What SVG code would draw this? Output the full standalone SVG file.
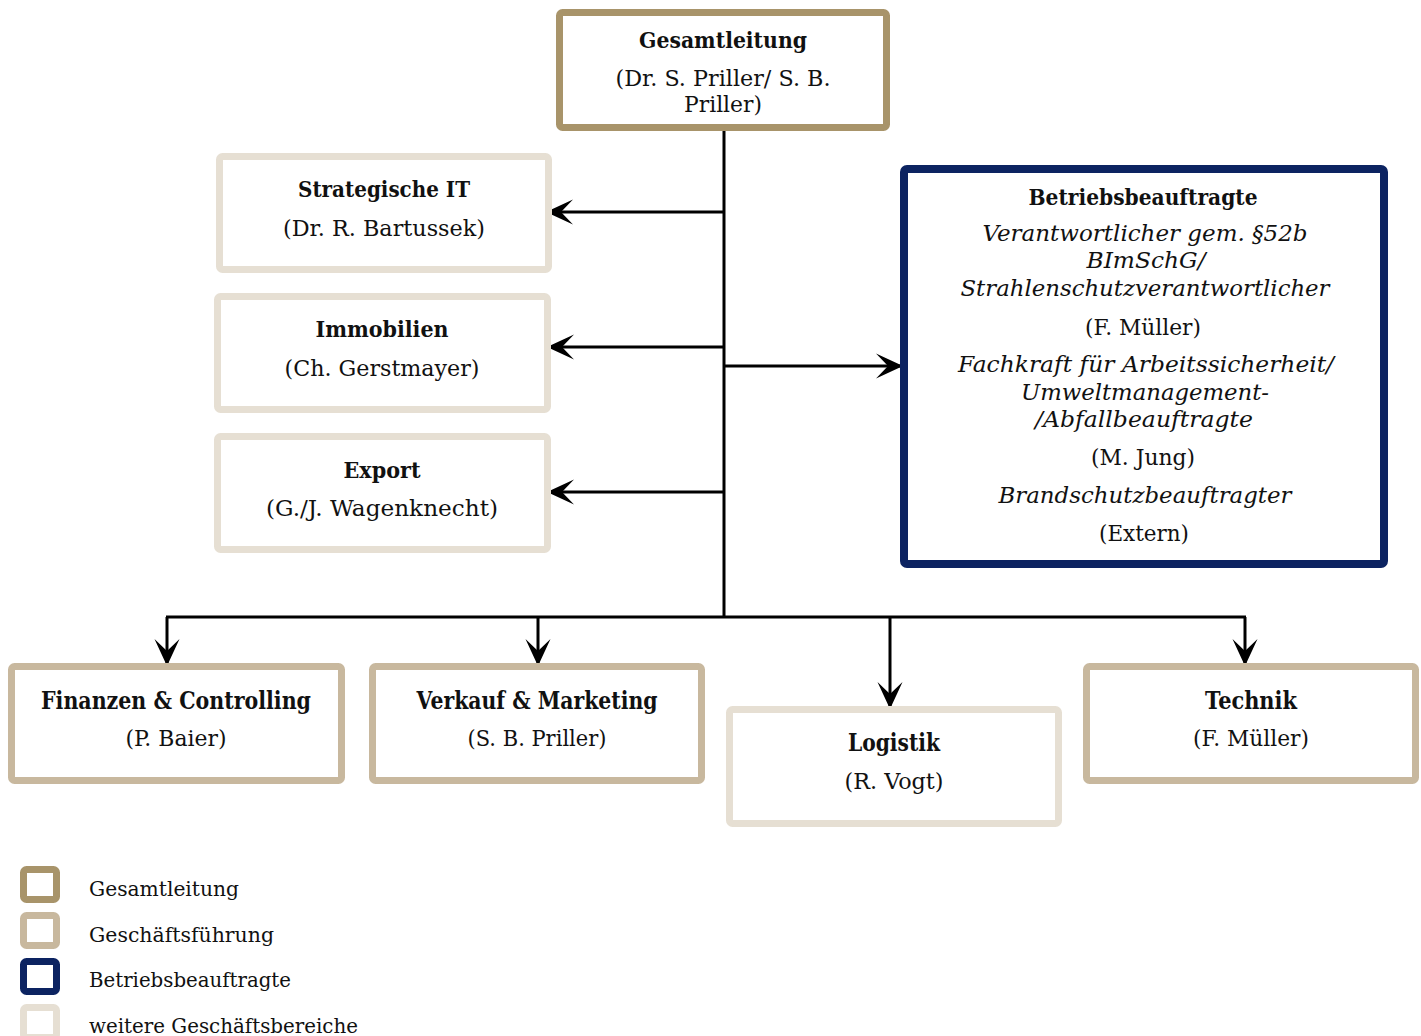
<svg xmlns="http://www.w3.org/2000/svg" width="1421" height="1036" viewBox="0 0 1421 1036">
<style>
.box{fill:#fff;stroke-width:7}
.gl{stroke:#A8946A}
.gf{stroke:#C8B89E}
.bb{stroke:#0C2361}
.wg{stroke:#E6DFD3}
text{font-family:"DejaVu Serif","Liberation Serif",serif;fill:#111;text-anchor:middle}
.h{font-weight:bold;font-size:23px}
.hc{font-weight:bold;font-size:25px}
.n{font-size:22px}
.nc{font-size:23px}
.i{font-size:22px;font-style:italic}
.lg{text-anchor:start;font-size:21px}
.con{stroke:#000;stroke-width:3;fill:none}
</style>
<defs>
<marker id="ah" markerUnits="userSpaceOnUse" markerWidth="30" markerHeight="30" viewBox="-28 -14 30 28" refX="0" refY="0" orient="auto">
<path d="M0,0 L-27,-12.5 L-15,0 L-27,12.5 Z" fill="#000"/>
</marker>
</defs>
<g id="connectors">
<line class="con" x1="724" y1="131" x2="724" y2="617"/>
<line class="con" x1="724" y1="212" x2="546" y2="212" marker-end="url(#ah)"/>
<line class="con" x1="724" y1="347" x2="547" y2="347" marker-end="url(#ah)"/>
<line class="con" x1="724" y1="492" x2="547" y2="492" marker-end="url(#ah)"/>
<line class="con" x1="724" y1="366" x2="903" y2="366" marker-end="url(#ah)"/>
<line class="con" x1="166" y1="617" x2="1246" y2="617"/>
<line class="con" x1="167" y1="617" x2="167" y2="666" marker-end="url(#ah)"/>
<line class="con" x1="538" y1="617" x2="538" y2="666" marker-end="url(#ah)"/>
<line class="con" x1="890" y1="617" x2="890" y2="709" marker-end="url(#ah)"/>
<line class="con" x1="1245" y1="617" x2="1245" y2="666" marker-end="url(#ah)"/>
</g>
<g id="gesamtleitung">
<rect class="box gl" x="559.5" y="12.5" width="327" height="115" rx="3"/>
<text class="h" x="723" y="48" textLength="168" lengthAdjust="spacingAndGlyphs">Gesamtleitung</text>
<text class="n" x="723" y="86" textLength="215" lengthAdjust="spacingAndGlyphs">(Dr. S. Priller/ S. B.</text>
<text class="n" x="723" y="112" textLength="78" lengthAdjust="spacingAndGlyphs">Priller)</text>
</g>
<g id="strategische-it">
<rect class="box wg" x="219.5" y="156.5" width="329" height="113" rx="3"/>
<text class="h" x="384" y="197" textLength="172" lengthAdjust="spacingAndGlyphs">Strategische IT</text>
<text class="n" x="384" y="236" textLength="202" lengthAdjust="spacingAndGlyphs">(Dr. R. Bartussek)</text>
</g>
<g id="immobilien">
<rect class="box wg" x="217.5" y="296.5" width="330" height="113" rx="3"/>
<text class="h" x="382" y="337" textLength="133" lengthAdjust="spacingAndGlyphs">Immobilien</text>
<text class="n" x="382" y="376" textLength="195" lengthAdjust="spacingAndGlyphs">(Ch. Gerstmayer)</text>
</g>
<g id="export">
<rect class="box wg" x="217.5" y="436.5" width="330" height="113" rx="3"/>
<text class="h" x="382" y="478" textLength="77" lengthAdjust="spacingAndGlyphs">Export</text>
<text class="n" x="382" y="516" textLength="232" lengthAdjust="spacingAndGlyphs">(G./J. Wagenknecht)</text>
</g>
<g id="betriebsbeauftragte">
<rect class="box bb" x="904" y="169" width="480" height="395" rx="3" style="stroke-width:8"/>
<text class="h" x="1143" y="205" textLength="229" lengthAdjust="spacingAndGlyphs">Betriebsbeauftragte</text>
<text class="i" x="1145" y="241" textLength="325" lengthAdjust="spacingAndGlyphs">Verantwortlicher gem. §52b</text>
<text class="i" x="1146" y="268" textLength="119" lengthAdjust="spacingAndGlyphs">BImSchG/</text>
<text class="i" x="1145" y="296" textLength="369" lengthAdjust="spacingAndGlyphs">Strahlenschutzverantwortlicher</text>
<text class="n" x="1143" y="335" textLength="116" lengthAdjust="spacingAndGlyphs">(F. Müller)</text>
<text class="i" x="1146" y="372" textLength="376" lengthAdjust="spacingAndGlyphs">Fachkraft für Arbeitssicherheit/</text>
<text class="i" x="1145" y="400" textLength="248" lengthAdjust="spacingAndGlyphs">Umweltmanagement-</text>
<text class="i" x="1144" y="427" textLength="218" lengthAdjust="spacingAndGlyphs">/Abfallbeauftragte</text>
<text class="n" x="1143" y="465" textLength="104" lengthAdjust="spacingAndGlyphs">(M. Jung)</text>
<text class="i" x="1145" y="503" textLength="293" lengthAdjust="spacingAndGlyphs">Brandschutzbeauftragter</text>
<text class="n" x="1144" y="541" textLength="90" lengthAdjust="spacingAndGlyphs">(Extern)</text>
</g>
<g id="finanzen">
<rect class="box gf" x="11.5" y="666.5" width="330" height="114" rx="3"/>
<text class="hc" x="176" y="709" textLength="270" lengthAdjust="spacingAndGlyphs">Finanzen &amp; Controlling</text>
<text class="nc" x="176" y="746" textLength="101" lengthAdjust="spacingAndGlyphs">(P. Baier)</text>
</g>
<g id="verkauf">
<rect class="box gf" x="372.5" y="666.5" width="329" height="114" rx="3"/>
<text class="hc" x="537" y="709" textLength="241" lengthAdjust="spacingAndGlyphs">Verkauf &amp; Marketing</text>
<text class="nc" x="537" y="746" textLength="139" lengthAdjust="spacingAndGlyphs">(S. B. Priller)</text>
</g>
<g id="logistik">
<rect class="box wg" x="729.5" y="709.5" width="329" height="114" rx="3"/>
<text class="hc" x="894" y="751" textLength="92" lengthAdjust="spacingAndGlyphs">Logistik</text>
<text class="nc" x="894" y="789" textLength="99" lengthAdjust="spacingAndGlyphs">(R. Vogt)</text>
</g>
<g id="technik">
<rect class="box gf" x="1086.5" y="666.5" width="329" height="114" rx="3"/>
<text class="hc" x="1251" y="709" textLength="92" lengthAdjust="spacingAndGlyphs">Technik</text>
<text class="nc" x="1251" y="746" textLength="116" lengthAdjust="spacingAndGlyphs">(F. Müller)</text>
</g>
<g id="legend">
<rect class="box gl" x="23.5" y="869.5" width="33" height="30" rx="3"/>
<text class="lg" x="89" y="896" textLength="150" lengthAdjust="spacingAndGlyphs">Gesamtleitung</text>
<rect class="box gf" x="23.5" y="915.5" width="33" height="30" rx="3"/>
<text class="lg" x="89" y="942" textLength="185" lengthAdjust="spacingAndGlyphs">Geschäftsführung</text>
<rect class="box bb" x="23.5" y="961.5" width="33" height="30" rx="3"/>
<text class="lg" x="89" y="987" textLength="202" lengthAdjust="spacingAndGlyphs">Betriebsbeauftragte</text>
<rect class="box wg" x="23.5" y="1007.5" width="33" height="30" rx="3"/>
<text class="lg" x="89" y="1033" textLength="269" lengthAdjust="spacingAndGlyphs">weitere Geschäftsbereiche</text>
</g>
</svg>
